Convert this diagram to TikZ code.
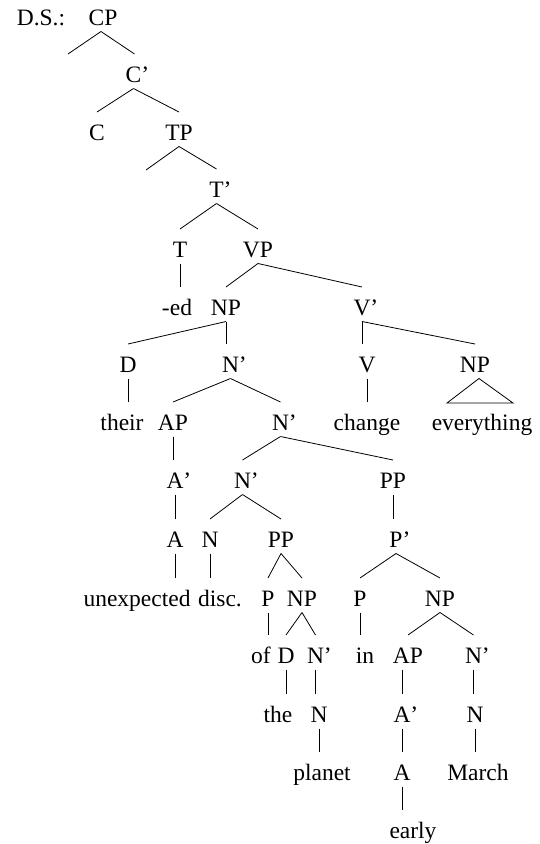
\documentclass[tikz,border=0pt]{standalone}
\usepackage{fontspec}
\setmainfont{Liberation Serif}
\usetikzlibrary{calc}
\newcommand\tbr[2]{\draw[edge] ($(#1.base)+(0,6.5)$) -- ($(#2.base)+(0,-28)$);}
\newcommand\ubr[2]{\draw[edge] ($(#1.base)+(0,6.5)$) -- ($(#1.base |- #2.base)+(0,-28)$);}
\newcommand\ubrc[2]{\draw[edge] ($(#2.base |- #1.base)+(0,6.5)$) -- ($(#2.base)+(0,-28)$);}
\begin{document}
\begin{tikzpicture}[x=1pt,y=-1pt,
  lbl/.style={anchor=base, inner sep=0pt, font=\fontsize{23.5}{28}\selectfont},
  edge/.style={line width=0.8pt}]
\useasboundingbox (0,0) rectangle (540,844);
% row 0
\node[lbl] (ds) at (41,25) {D.S.:};
\node[lbl] (cp) at (103,25) {CP};
% row 1
\node[lbl] (cbar) at (133.5,82) {C\rlap{’}};
% row 2
\node[lbl] (c) at (97,140) {C};
\node[lbl] (tp) at (179,140) {TP};
% row 3
\node[lbl] (tbar) at (216.5,197) {T\rlap{’}};
% row 4
\node[lbl] (t) at (180,257) {T};
\node[lbl] (vp) at (258,257) {VP};
% row 5
\node[lbl] (ed) at (177,315) {-ed};
\node[lbl] (np1) at (226,315) {NP};
\node[lbl] (vbar) at (362,315) {V\rlap{’}};
% row 6
\node[lbl] (d1) at (128,372) {D};
\node[lbl] (nbar1) at (230.5,372) {N\rlap{’}};
\node[lbl] (v) at (367,372) {V};
\node[lbl] (np2) at (475,372) {NP};
% row 7
\node[lbl] (their) at (122,430) {their};
\node[lbl] (ap1) at (173,430) {AP};
\node[lbl] (nbar2) at (280.5,430) {N\rlap{’}};
\node[lbl] (change) at (367,430) {change};
\node[lbl] (ev) at (482,430) {everything};
% row 8
\node[lbl] (abar1) at (175,488) {A\rlap{’}};
\node[lbl] (nbar3) at (242.5,488) {N\rlap{’}};
\node[lbl] (pp1) at (393,488) {PP};
% row 9
\node[lbl] (a1) at (175,547) {A};
\node[lbl] (n1) at (210,547) {N};
\node[lbl] (pp2) at (281,547) {PP};
\node[lbl] (pbar) at (396,547) {P\rlap{’}};
% row 10
\node[lbl] (unexp) at (137,606) {unexpected};
\node[lbl] (disc) at (220,606) {disc.};
\node[lbl] (p1) at (268,606) {P};
\node[lbl] (np3) at (302,606) {NP};
\node[lbl] (p2) at (360,606) {P};
\node[lbl] (np4) at (440,606) {NP};
% row 11
\node[lbl] (of) at (261,663) {of};
\node[lbl] (d2) at (286,663) {D};
\node[lbl] (nbar4) at (315.5,663) {N\rlap{’}};
\node[lbl] (in) at (365,663) {in};
\node[lbl] (ap2) at (408,663) {AP};
\node[lbl] (nbar5) at (473.5,663) {N\rlap{’}};
% row 12
\node[lbl] (the) at (278,722) {the};
\node[lbl] (n2) at (319,722) {N};
\node[lbl] (abar2) at (402,722) {A\rlap{’}};
\node[lbl] (n3) at (475,722) {N};
% row 13
\node[lbl] (planet) at (322,780) {planet};
\node[lbl] (a2) at (402,780) {A};
\node[lbl] (march) at (478,780) {March};
% row 14
\node[lbl] (early) at (413,838) {early};
% empty specifier ends
\coordinate (cpspec) at (68,54);
\coordinate (tpspec) at (146,170);
% edges
\draw[edge] ($(cp.base)+(-2,6.5)$) -- (cpspec);
\draw[edge] ($(cp.base)+(-2,6.5)$) -- ($(cbar.base)+(1,-28)$);
\tbr{cbar}{c}
\tbr{cbar}{tp}
\draw[edge] ($(tp.base)+(0,6.5)$) -- (tpspec);
\tbr{tp}{tbar}
\tbr{tbar}{t}
\tbr{tbar}{vp}
\ubr{t}{ed}
\tbr{vp}{np1}
\tbr{vp}{vbar}
\tbr{np1}{d1}
\ubr{np1}{nbar1}
\ubr{d1}{their}
\tbr{nbar1}{ap1}
\tbr{nbar1}{nbar2}
\ubr{ap1}{abar1}
\ubr{abar1}{a1}
\ubr{a1}{unexp}
\tbr{nbar2}{nbar3}
\tbr{nbar2}{pp1}
\tbr{nbar3}{n1}
\tbr{nbar3}{pp2}
\ubr{n1}{disc}
\tbr{pp2}{p1}
\tbr{pp2}{np3}
\ubr{p1}{of}
\tbr{np3}{d2}
\tbr{np3}{nbar4}
\ubr{d2}{the}
\ubr{nbar4}{n2}
\ubr{n2}{planet}
\ubr{pp1}{pbar}
\tbr{pbar}{p2}
\tbr{pbar}{np4}
\ubr{p2}{in}
\tbr{np4}{ap2}
\tbr{np4}{nbar5}
\ubrc{ap2}{abar2}
\ubr{abar2}{a2}
\ubr{a2}{early}
\ubr{nbar5}{n3}
\ubr{n3}{march}
\ubr{vbar}{v}
\tbr{vbar}{np2}
\ubr{v}{change}
\draw[edge] ($(np2.base)+(4,6.5)$) -- ($(ev.base)+(-35,-27)$) -- ($(ev.base)+(31,-27)$) -- cycle;
\end{tikzpicture}
\end{document}
